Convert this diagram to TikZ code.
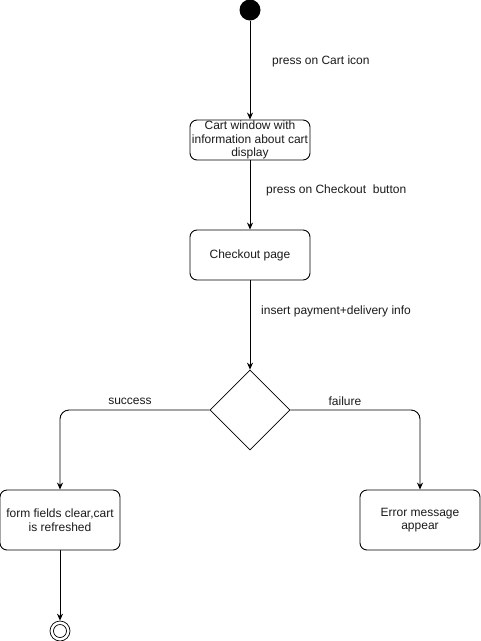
\documentclass[tikz,border=0pt]{standalone}
\usepackage{fontspec}
\setmainfont{Liberation Sans}
\usetikzlibrary{arrows.meta,shapes.geometric}
\definecolor{flowink}{HTML}{000000}
\definecolor{labelink}{HTML}{1A1A1A}

\begin{document}
\begin{tikzpicture}[
  x=1pt,
  y=-1pt,
  every node/.style={font=\fontsize{12}{13.5}\selectfont, labelink},
  flow/.style={flowink, line width=0.9pt, -{Stealth[length=7pt, width=6pt]}},
  state/.style={draw=flowink, line width=0.9pt, rounded corners=7pt,
    minimum width=120pt, inner xsep=0pt, inner ysep=0pt, align=center},
  choice/.style={draw=flowink, line width=0.7pt, diamond, aspect=1,
    minimum width=80pt, minimum height=80pt, inner sep=0pt},
  startdot/.style={circle, fill=flowink, minimum size=21pt, inner sep=0pt},
  endring/.style={circle, draw=flowink, line width=0.7pt, inner sep=0pt},
  guard/.style={anchor=west, inner sep=0pt}
]
  % ---- page frame -------------------------------------------------------
  \useasboundingbox (0,0) rectangle (481,641);

  % ---- states -----------------------------------------------------------
  \node[startdot] (start) at (250,10) {};
  \node[state, minimum height=40pt] (cart) at (250,140)
    {Cart window with\\information about cart\\display};
  \node[state, minimum height=50pt] (checkout) at (250,255) {Checkout page};
  \node[choice] (pay) at (250,410) {};
  \node[state, minimum height=60pt] (done) at (60,520)
    {form fields clear,cart\\is refreshed};
  \node[state, minimum height=60pt] (error) at (420,520)
    {Error message\\appear};
  \node[endring, minimum size=20pt] (finish) at (60,631) {};
  \node[endring, minimum size=13pt] (finishin) at (finish) {};

  % ---- transitions ------------------------------------------------------
  \draw[flow] (start) -- (cart);
  \draw[flow] (cart) -- (checkout);
  \draw[flow] (checkout) -- (pay);
  \draw[flow, rounded corners=9pt] (pay.west) -| (done.north);
  \draw[flow, rounded corners=9pt] (pay.east) -| (error.north);
  \draw[flow] (done) -- (finish);

  % ---- guards -----------------------------------------------------------
  \node[guard] (g1) at (272,61) {press on Cart icon};
  \node[guard] (g2) at (266,190) {press on Checkout\ \ button};
  \node[guard] (g3) at (261,311) {insert payment+delivery info};
  \node[inner sep=0pt] (g4) at (130,401) {success};
  \node[inner sep=0pt] (g5) at (345,401) {failure};
\end{tikzpicture}
\end{document}
